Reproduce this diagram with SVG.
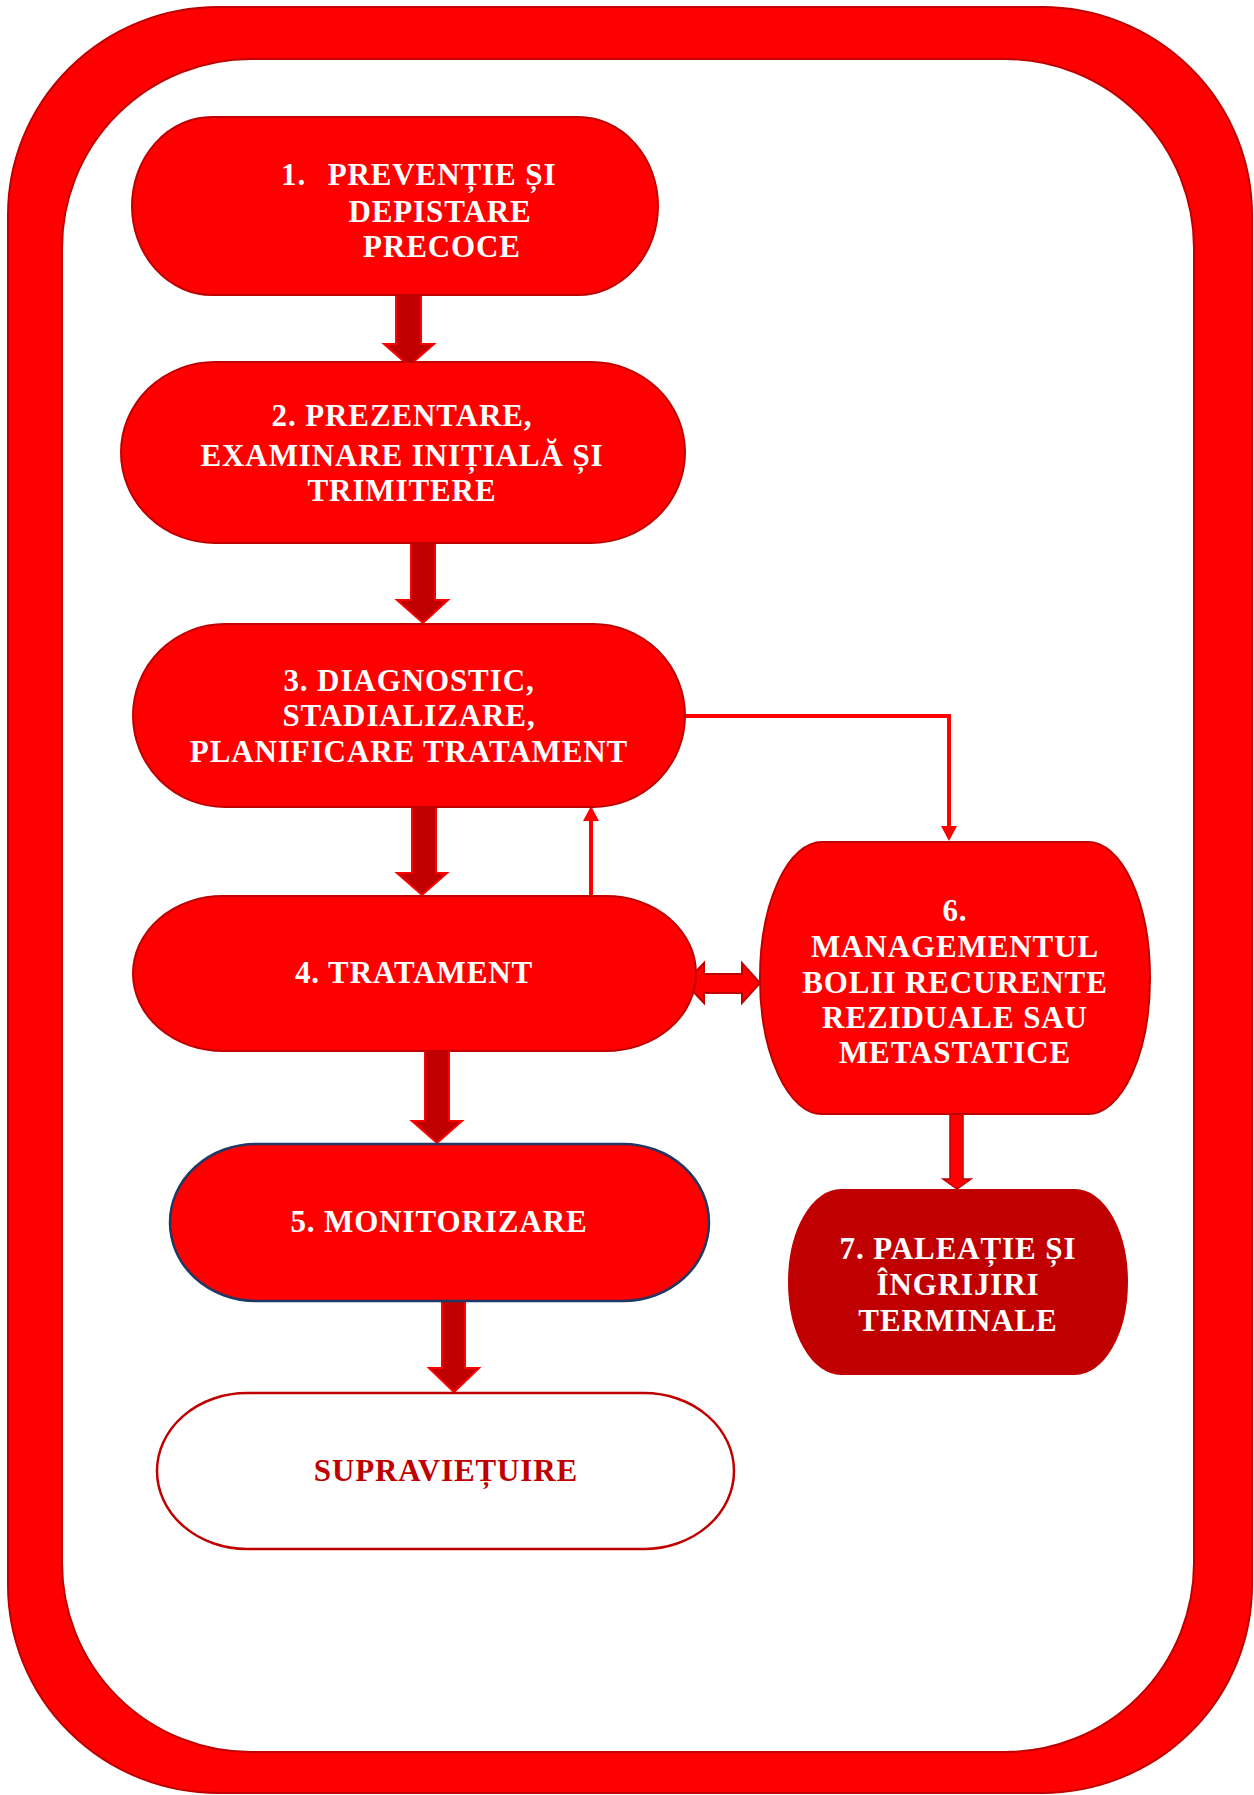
<svg xmlns="http://www.w3.org/2000/svg" width="1254" height="1795" viewBox="0 0 1254 1795">
<style>
.n{fill:#FF0000;stroke:#C00000;stroke-width:2}
.t{font-family:"Liberation Serif","Times New Roman",serif;font-weight:bold;font-size:31px;fill:#FFFFFF;text-anchor:middle;letter-spacing:0.9px}
.blk{fill:#C00000;stroke:#FF0000;stroke-width:2;stroke-linejoin:miter}
.thin{fill:none;stroke:#FF0000;stroke-width:4}
.hd{fill:#FF0000}
</style>
<rect width="1254" height="1795" fill="#FFFFFF"/>
<g id="frame">
<rect x="8" y="7" width="1244" height="1786" rx="210" ry="208" fill="#FF0000" stroke="#C00000" stroke-width="2"/>
<rect x="62" y="59" width="1132" height="1693" rx="189" ry="189" fill="#FFFFFF" stroke="#C00000" stroke-width="2"/>
</g>
<g id="connectors">
<path class="blk" d="M396,294 L421,294 L421,344 L434,344 L409,366 L384,344 L396,344 Z"/>
<path class="blk" d="M411,543 L435,543 L435,600 L448,600 L423,623 L397,600 L411,600 Z"/>
<path class="blk" d="M412,807 L436,807 L436,873 L447,873 L422,895 L397,873 L412,873 Z"/>
<path class="blk" d="M425,1051 L449,1051 L449,1121 L462,1121 L437,1143 L412,1121 L425,1121 Z"/>
<path class="blk" d="M442,1301 L465,1301 L465,1368 L479,1368 L454,1392 L429,1368 L442,1368 Z"/>
<path d="M950,1114 L963,1114 L963,1179 L971,1179 L957,1189 L943,1179 L950,1179 Z" fill="#FF0000" stroke="#C00000" stroke-width="1.5"/>
<path d="M685,983 L704,963 L704,974 L742,974 L742,963 L760,983 L742,1003 L742,993 L704,993 L704,1003 Z" fill="#FF0000" stroke="#C00000" stroke-width="2"/>
<line class="thin" x1="591" y1="895" x2="591" y2="819"/>
<polygon class="hd" points="591,806 583,821 599,821"/>
<path class="thin" d="M685,716 H949 V827"/>
<polygon class="hd" points="949,841 941,826 957,826"/>
</g>
<g id="node1">
<rect class="n" x="132" y="117" width="526" height="178" rx="80" ry="89"/>
<text class="t" x="281" y="185" style="text-anchor:start">1.</text>
<text class="t" x="442" y="185">PREVENȚIE ȘI</text>
<text class="t" x="440" y="222">DEPISTARE</text>
<text class="t" x="442" y="257">PRECOCE</text>
</g>
<g id="node2">
<rect class="n" x="121" y="362" width="564" height="181" rx="94" ry="90.5"/>
<text class="t" x="402" y="426">2. PREZENTARE,</text>
<text class="t" x="402" y="466">EXAMINARE INIȚIALĂ ȘI</text>
<text class="t" x="402" y="501">TRIMITERE</text>
</g>
<g id="node3">
<rect class="n" x="133" y="624" width="552" height="183" rx="92" ry="91.5"/>
<text class="t" x="409" y="691">3. DIAGNOSTIC,</text>
<text class="t" x="409" y="726">STADIALIZARE,</text>
<text class="t" x="409" y="762">PLANIFICARE TRATAMENT</text>
</g>
<g id="node4">
<rect class="n" x="133" y="896" width="563" height="155" rx="90" ry="77.5"/>
<text class="t" x="414" y="983">4. TRATAMENT</text>
</g>
<g id="node5">
<rect x="170" y="1144" width="539" height="157" rx="86" ry="78.5" fill="#FF0000" stroke="#1F3864" stroke-width="2.5"/>
<text class="t" x="439" y="1232">5. MONITORIZARE</text>
</g>
<g id="node6">
<rect class="n" x="760" y="842" width="390" height="272" rx="62" ry="136"/>
<text class="t" x="955" y="921">6.</text>
<text class="t" x="955" y="957">MANAGEMENTUL</text>
<text class="t" x="955" y="993">BOLII RECURENTE</text>
<text class="t" x="955" y="1028">REZIDUALE SAU</text>
<text class="t" x="955" y="1063">METASTATICE</text>
</g>
<g id="node7">
<rect x="789" y="1190" width="338" height="184" rx="52" ry="92" fill="#C00000" stroke="#C00000" stroke-width="2"/>
<text class="t" x="958" y="1259">7. PALEAȚIE ȘI</text>
<text class="t" x="958" y="1295">ÎNGRIJIRI</text>
<text class="t" x="958" y="1331">TERMINALE</text>
</g>
<g id="node8">
<rect x="157" y="1393" width="577" height="156" rx="90" ry="78" fill="#FFFFFF" stroke="#C00000" stroke-width="2.5"/>
<text class="t" x="446" y="1481" style="fill:#C00000">SUPRAVIEȚUIRE</text>
</g>
</svg>
